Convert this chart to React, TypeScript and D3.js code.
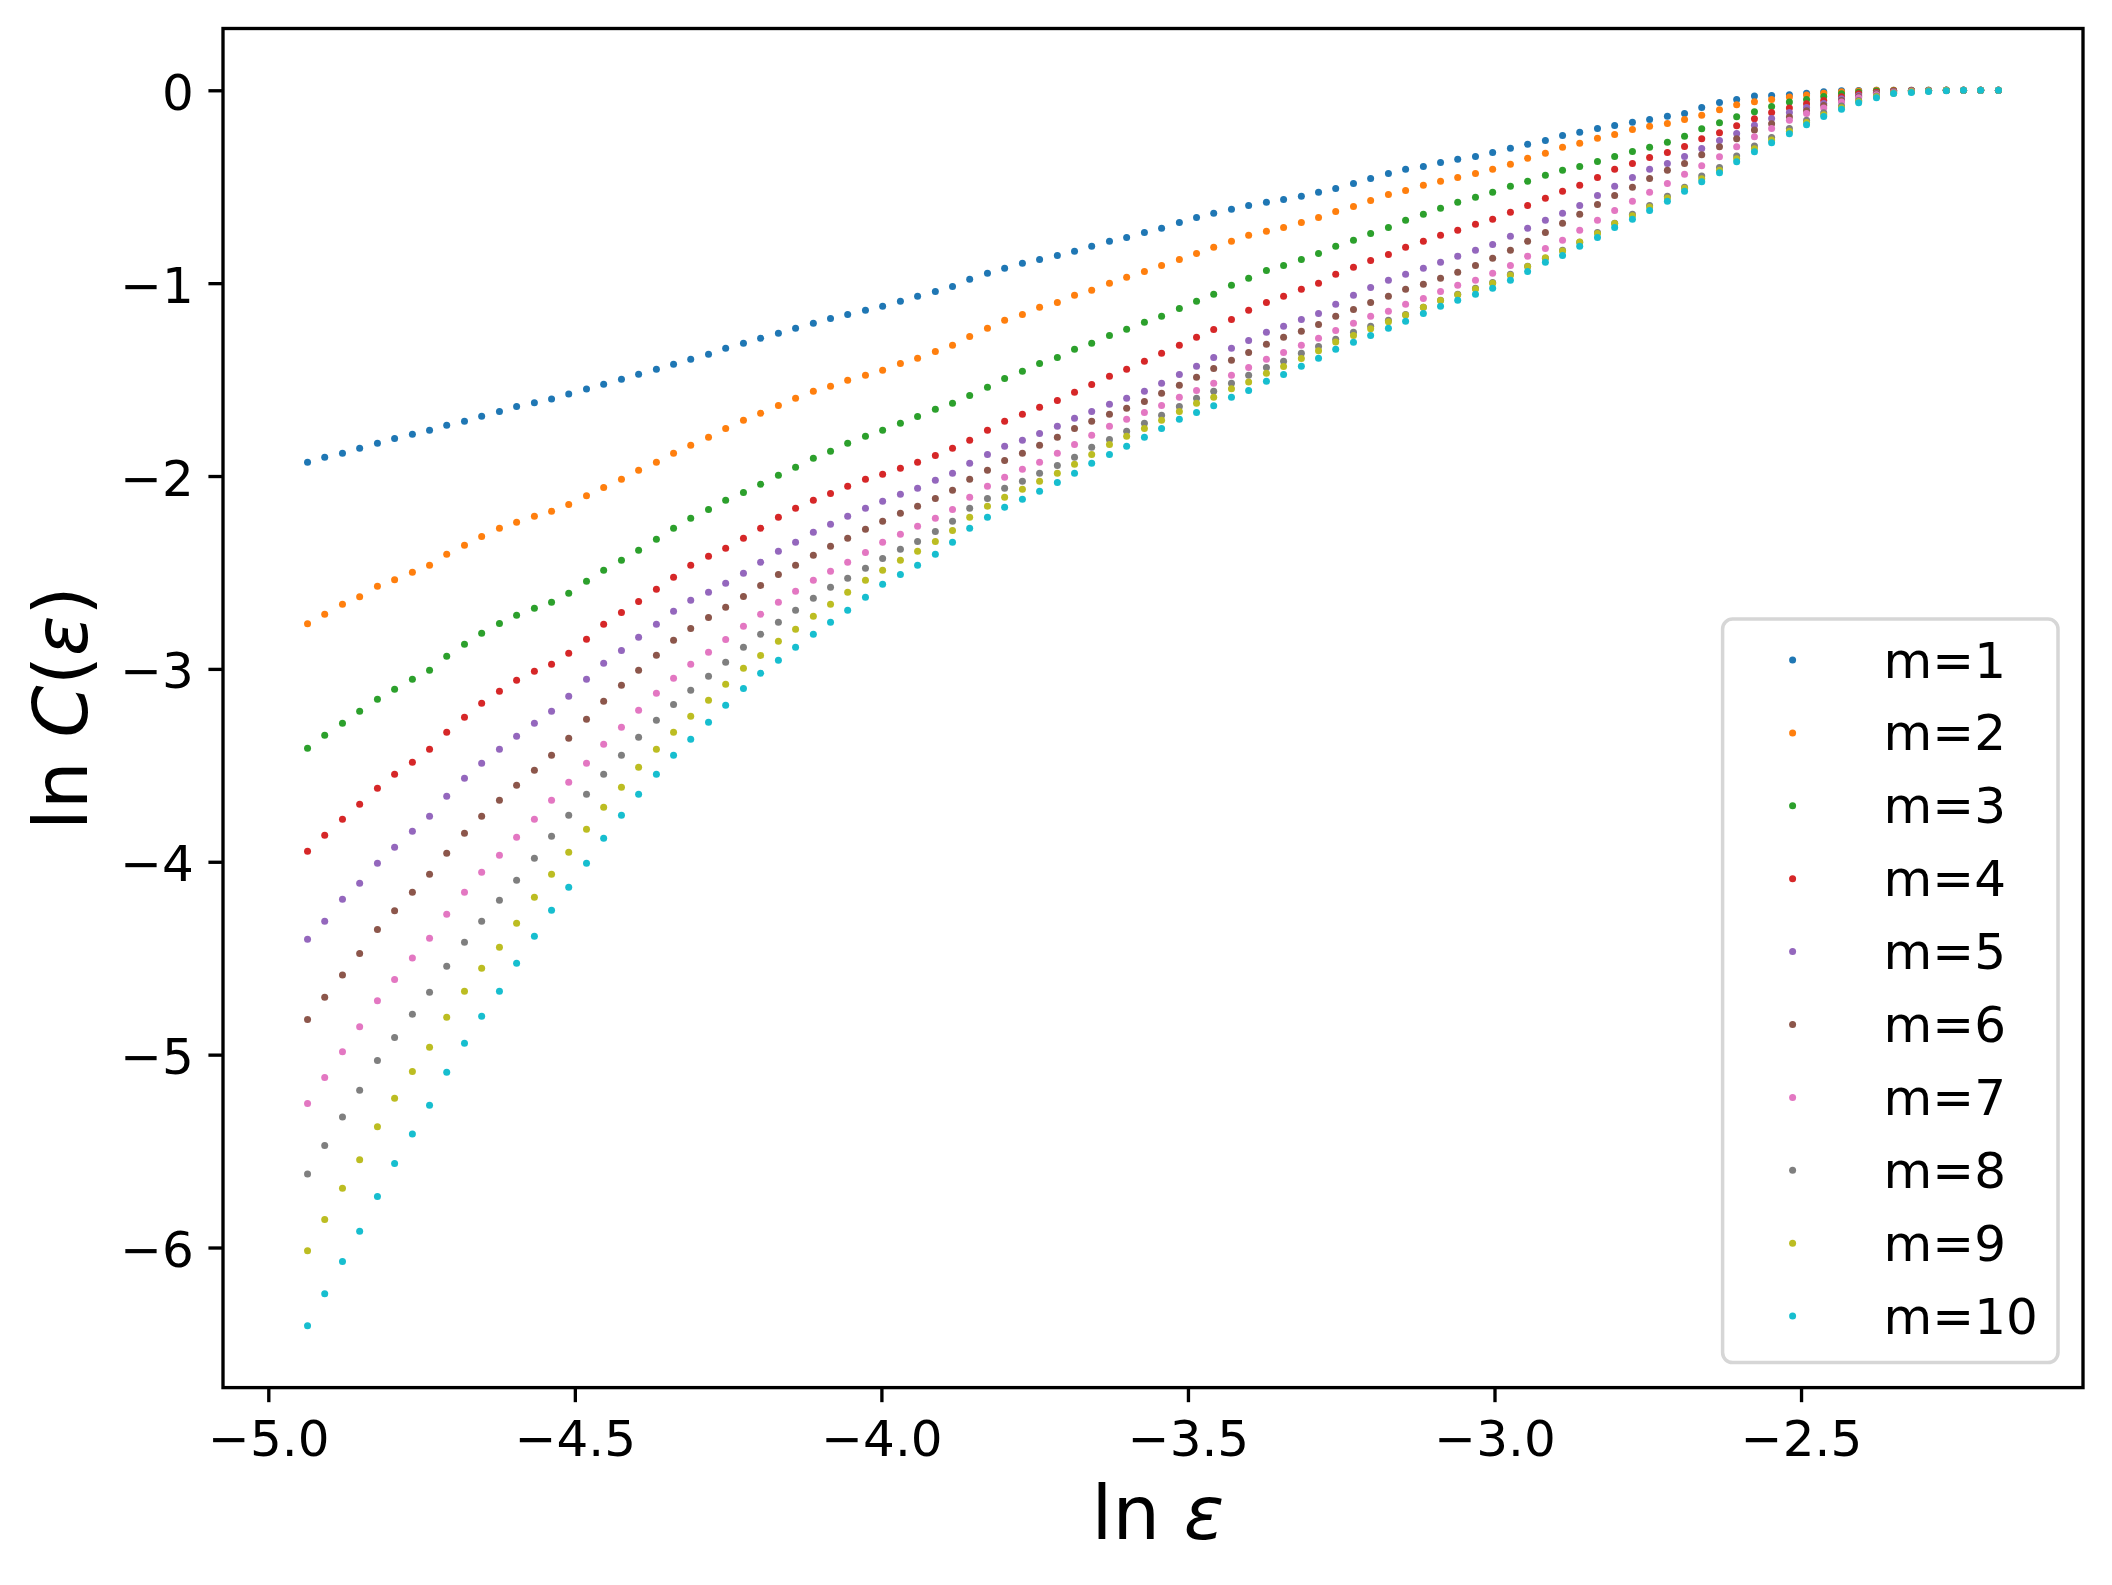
import { useEffect, useRef } from "react";
import * as d3 from "d3";

// ln(epsilon) grid shared by every embedding dimension
const lnEps = [
  -4.936, -4.908, -4.879, -4.851, -4.822, -4.794, -4.765, -4.737, -4.709, -4.68,
  -4.652, -4.623, -4.595, -4.566, -4.538, -4.51, -4.481, -4.453, -4.424, -4.396,
  -4.367, -4.339, -4.311, -4.282, -4.254, -4.225, -4.197, -4.168, -4.14, -4.111,
  -4.083, -4.055, -4.026, -3.998, -3.969, -3.941, -3.912, -3.884, -3.856, -3.827,
  -3.799, -3.77, -3.742, -3.713, -3.685, -3.657, -3.628, -3.6, -3.571, -3.543,
  -3.514, -3.486, -3.458, -3.429, -3.401, -3.372, -3.344, -3.315, -3.287, -3.259,
  -3.23, -3.202, -3.173, -3.145, -3.116, -3.088, -3.06, -3.031, -3.003, -2.974,
  -2.946, -2.917, -2.889, -2.861, -2.832, -2.804, -2.775, -2.747, -2.718, -2.69,
  -2.662, -2.633, -2.605, -2.576, -2.548, -2.519, -2.491, -2.463, -2.434, -2.406,
  -2.377, -2.349, -2.32, -2.292, -2.263, -2.235, -2.207, -2.178,
];

// ln C(epsilon), one array per m
const m1 = [
  -1.929, -1.903, -1.882, -1.856, -1.83, -1.805, -1.784, -1.763, -1.737, -1.716,
  -1.69, -1.665, -1.639, -1.62, -1.601, -1.575, -1.549, -1.524, -1.498, -1.472,
  -1.446, -1.421, -1.395, -1.369, -1.338, -1.312, -1.286, -1.26, -1.234, -1.208,
  -1.183, -1.162, -1.141, -1.12, -1.094, -1.068, -1.043, -1.017, -0.98, -0.949,
  -0.923, -0.897, -0.877, -0.856, -0.835, -0.809, -0.783, -0.763, -0.737, -0.716,
  -0.685, -0.659, -0.637, -0.617, -0.597, -0.581, -0.566, -0.55, -0.529, -0.509,
  -0.483, -0.457, -0.431, -0.41, -0.395, -0.374, -0.358, -0.343, -0.322, -0.301,
  -0.28, -0.26, -0.234, -0.218, -0.198, -0.182, -0.166, -0.151, -0.135, -0.12,
  -0.089, -0.063, -0.048, -0.03, -0.027, -0.023, -0.016, -0.008, -0.003, -0.001,
  0, 0, 0, 0, 0, 0, 0, 0,
];
const m2 = [
  -2.766, -2.717, -2.665, -2.626, -2.572, -2.538, -2.499, -2.463, -2.406, -2.359,
  -2.313, -2.271, -2.24, -2.209, -2.183, -2.147, -2.102, -2.059, -2.017, -1.97,
  -1.929, -1.882, -1.841, -1.799, -1.753, -1.711, -1.675, -1.634, -1.597, -1.561,
  -1.535, -1.504, -1.478, -1.452, -1.416, -1.39, -1.354, -1.322, -1.276, -1.234,
  -1.193, -1.162, -1.125, -1.1, -1.063, -1.037, -1.001, -0.97, -0.939, -0.908,
  -0.877, -0.846, -0.814, -0.783, -0.752, -0.731, -0.711, -0.685, -0.659, -0.628,
  -0.602, -0.571, -0.54, -0.519, -0.493, -0.472, -0.452, -0.431, -0.41, -0.384,
  -0.353, -0.327, -0.296, -0.275, -0.249, -0.229, -0.203, -0.187, -0.172, -0.151,
  -0.129, -0.101, -0.075, -0.06, -0.048, -0.035, -0.025, -0.015, -0.008, -0.004,
  0, 0, 0, 0, 0, 0, 0, 0,
];
const m3 = [
  -3.412, -3.344, -3.282, -3.22, -3.158, -3.106, -3.054, -3.007, -2.935, -2.872,
  -2.815, -2.764, -2.722, -2.686, -2.655, -2.608, -2.546, -2.489, -2.437, -2.385,
  -2.328, -2.271, -2.219, -2.173, -2.126, -2.085, -2.043, -1.996, -1.955, -1.908,
  -1.872, -1.83, -1.794, -1.763, -1.727, -1.691, -1.654, -1.623, -1.582, -1.54,
  -1.494, -1.457, -1.416, -1.385, -1.343, -1.312, -1.271, -1.239, -1.203, -1.172,
  -1.131, -1.094, -1.058, -1.011, -0.975, -0.934, -0.908, -0.877, -0.846, -0.809,
  -0.778, -0.742, -0.711, -0.674, -0.643, -0.612, -0.581, -0.555, -0.529, -0.498,
  -0.472, -0.441, -0.415, -0.395, -0.369, -0.343, -0.317, -0.296, -0.27, -0.239,
  -0.2, -0.168, -0.137, -0.111, -0.084, -0.061, -0.048, -0.032, -0.018, -0.01,
  -0.004, -0.002, -0.001, 0, 0, 0, 0, 0,
];
const m4 = [
  -3.946, -3.863, -3.78, -3.702, -3.619, -3.546, -3.484, -3.417, -3.329, -3.251,
  -3.178, -3.116, -3.059, -3.012, -2.976, -2.919, -2.846, -2.769, -2.707, -2.65,
  -2.587, -2.525, -2.463, -2.416, -2.375, -2.323, -2.271, -2.214, -2.167, -2.126,
  -2.09, -2.053, -2.017, -1.991, -1.96, -1.929, -1.893, -1.856, -1.815, -1.763,
  -1.716, -1.68, -1.644, -1.608, -1.566, -1.525, -1.483, -1.447, -1.405, -1.364,
  -1.322, -1.281, -1.24, -1.188, -1.141, -1.1, -1.068, -1.032, -1.001, -0.954,
  -0.918, -0.882, -0.851, -0.814, -0.783, -0.752, -0.726, -0.695, -0.669, -0.633,
  -0.597, -0.56, -0.524, -0.493, -0.452, -0.41, -0.379, -0.348, -0.322, -0.291,
  -0.251, -0.22, -0.184, -0.148, -0.115, -0.092, -0.07, -0.053, -0.034, -0.018,
  -0.01, -0.004, -0.002, -0.001, 0, 0, 0, 0,
];
const m5 = [
  -4.402, -4.309, -4.194, -4.111, -4.008, -3.925, -3.842, -3.764, -3.66, -3.567,
  -3.489, -3.417, -3.349, -3.282, -3.22, -3.142, -3.054, -2.971, -2.904, -2.836,
  -2.769, -2.701, -2.644, -2.603, -2.556, -2.504, -2.447, -2.39, -2.344, -2.292,
  -2.25, -2.209, -2.167, -2.131, -2.095, -2.064, -2.022, -1.986, -1.934, -1.888,
  -1.846, -1.815, -1.779, -1.742, -1.701, -1.665, -1.628, -1.597, -1.561, -1.519,
  -1.473, -1.431, -1.385, -1.338, -1.297, -1.255, -1.224, -1.188, -1.157, -1.11,
  -1.063, -1.022, -0.985, -0.954, -0.923, -0.892, -0.861, -0.83, -0.799, -0.757,
  -0.716, -0.674, -0.638, -0.597, -0.545, -0.498, -0.452, -0.41, -0.379, -0.343,
  -0.302, -0.26, -0.224, -0.181, -0.146, -0.115, -0.089, -0.068, -0.044, -0.027,
  -0.015, -0.006, -0.003, -0.001, 0, 0, 0, 0,
];
const m6 = [
  -4.818, -4.703, -4.587, -4.476, -4.351, -4.254, -4.158, -4.065, -3.956, -3.852,
  -3.764, -3.681, -3.603, -3.526, -3.448, -3.36, -3.261, -3.168, -3.085, -3.007,
  -2.929, -2.852, -2.79, -2.733, -2.681, -2.624, -2.567, -2.51, -2.463, -2.411,
  -2.364, -2.323, -2.276, -2.235, -2.193, -2.157, -2.116, -2.074, -2.017, -1.97,
  -1.919, -1.882, -1.841, -1.799, -1.753, -1.716, -1.68, -1.649, -1.613, -1.571,
  -1.53, -1.488, -1.442, -1.4, -1.359, -1.317, -1.281, -1.25, -1.214, -1.172,
  -1.136, -1.1, -1.068, -1.032, -1.006, -0.975, -0.944, -0.908, -0.871, -0.83,
  -0.783, -0.737, -0.69, -0.643, -0.592, -0.545, -0.503, -0.457, -0.415, -0.379,
  -0.334, -0.293, -0.251, -0.206, -0.174, -0.139, -0.106, -0.079, -0.053, -0.034,
  -0.018, -0.008, -0.004, -0.002, 0, 0, 0, 0,
];
const m7 = [
  -5.253, -5.119, -4.985, -4.855, -4.721, -4.61, -4.499, -4.397, -4.272, -4.158,
  -4.054, -3.966, -3.873, -3.78, -3.681, -3.588, -3.489, -3.391, -3.303, -3.215,
  -3.126, -3.049, -2.976, -2.914, -2.847, -2.779, -2.717, -2.655, -2.598, -2.541,
  -2.494, -2.447, -2.396, -2.344, -2.302, -2.261, -2.219, -2.173, -2.11, -2.053,
  -2.007, -1.965, -1.929, -1.882, -1.836, -1.789, -1.742, -1.706, -1.67, -1.634,
  -1.592, -1.556, -1.519, -1.478, -1.437, -1.395, -1.359, -1.322, -1.286, -1.245,
  -1.208, -1.172, -1.146, -1.11, -1.079, -1.043, -1.011, -0.985, -0.949, -0.908,
  -0.861, -0.82, -0.778, -0.726, -0.674, -0.623, -0.576, -0.529, -0.483, -0.436,
  -0.391, -0.345, -0.293, -0.241, -0.198, -0.156, -0.12, -0.092, -0.061, -0.039,
  -0.023, -0.01, -0.005, -0.002, 0, 0, 0, 0,
];
const m8 = [
  -5.619, -5.471, -5.323, -5.184, -5.031, -4.911, -4.791, -4.677, -4.542, -4.417,
  -4.308, -4.2, -4.096, -3.982, -3.868, -3.759, -3.65, -3.546, -3.448, -3.355,
  -3.266, -3.184, -3.111, -3.038, -2.966, -2.888, -2.821, -2.758, -2.696, -2.634,
  -2.577, -2.53, -2.478, -2.427, -2.38, -2.339, -2.287, -2.235, -2.167, -2.116,
  -2.064, -2.027, -1.986, -1.945, -1.903, -1.851, -1.81, -1.768, -1.727, -1.685,
  -1.639, -1.597, -1.561, -1.519, -1.478, -1.437, -1.405, -1.364, -1.328, -1.291,
  -1.255, -1.224, -1.193, -1.162, -1.125, -1.089, -1.058, -1.027, -0.996, -0.954,
  -0.913, -0.871, -0.83, -0.788, -0.737, -0.69, -0.643, -0.597, -0.55, -0.503,
  -0.445, -0.4, -0.341, -0.289, -0.245, -0.198, -0.155, -0.117, -0.082, -0.053,
  -0.03, -0.013, -0.007, -0.003, 0, 0, 0, 0,
];
const m9 = [
  -6.017, -5.855, -5.693, -5.545, -5.374, -5.226, -5.087, -4.962, -4.806, -4.671,
  -4.552, -4.443, -4.319, -4.184, -4.065, -3.951, -3.832, -3.717, -3.614, -3.51,
  -3.417, -3.329, -3.246, -3.163, -3.08, -2.997, -2.93, -2.857, -2.795, -2.727,
  -2.665, -2.603, -2.541, -2.489, -2.437, -2.39, -2.339, -2.282, -2.214, -2.157,
  -2.11, -2.069, -2.027, -1.986, -1.939, -1.888, -1.836, -1.794, -1.753, -1.711,
  -1.665, -1.623, -1.591, -1.548, -1.513, -1.467, -1.432, -1.391, -1.351, -1.305,
  -1.271, -1.236, -1.2, -1.165, -1.125, -1.09, -1.06, -1.03, -1.0, -0.959,
  -0.914, -0.868, -0.833, -0.787, -0.742, -0.691, -0.65, -0.605, -0.559, -0.508,
  -0.459, -0.414, -0.355, -0.303, -0.258, -0.212, -0.167, -0.127, -0.091, -0.058,
  -0.034, -0.015, -0.008, -0.004, 0, 0, 0, 0,
];
const m10 = [
  -6.406, -6.24, -6.073, -5.916, -5.735, -5.564, -5.411, -5.262, -5.091, -4.941,
  -4.801, -4.671, -4.526, -4.386, -4.251, -4.132, -4.008, -3.878, -3.759, -3.65,
  -3.546, -3.448, -3.365, -3.277, -3.189, -3.101, -3.023, -2.955, -2.888, -2.821,
  -2.758, -2.696, -2.629, -2.561, -2.51, -2.463, -2.406, -2.344, -2.271, -2.214,
  -2.162, -2.121, -2.079, -2.033, -1.986, -1.934, -1.888, -1.846, -1.799, -1.753,
  -1.706, -1.67, -1.636, -1.592, -1.556, -1.509, -1.473, -1.431, -1.39, -1.343,
  -1.307, -1.271, -1.234, -1.198, -1.157, -1.12, -1.089, -1.058, -1.027, -0.985,
  -0.939, -0.892, -0.856, -0.809, -0.763, -0.711, -0.669, -0.623, -0.576, -0.524,
  -0.474, -0.428, -0.371, -0.319, -0.272, -0.226, -0.179, -0.136, -0.099, -0.065,
  -0.039, -0.017, -0.011, -0.006, -0.002, 0, 0, 0,
];

const seriesLabels = ["m=1", "m=2", "m=3", "m=4", "m=5", "m=6", "m=7", "m=8", "m=9", "m=10"];
const seriesValues = [m1, m2, m3, m4, m5, m6, m7, m8, m9, m10];
const xTickValues = [-5.0, -4.5, -4.0, -3.5, -3.0, -2.5];
const yTickValues = [0, -1, -2, -3, -4, -5, -6];

const FONT = "'DejaVu Sans', Verdana, sans-serif";
const minus = (s: string) => s.replace("-", "\u2212");

export default function App() {
  const svgRef = useRef<SVGSVGElement>(null);

  useEffect(() => {
    if (!svgRef.current) return;

    const width = 2112;
    const height = 1585;
    const margin = { top: 28.5, right: 29, bottom: 197.4, left: 223 };
    const pt = 300 / 72; // figure was saved at 300 dpi
    const tickLen = 3.5 * pt;
    const lw = 0.8 * pt;

    const svg = d3.select(svgRef.current);
    svg.selectAll("*").remove();
    svg
      .attr("width", width)
      .attr("height", height)
      .attr("viewBox", `0 0 ${width} ${height}`)
      .style("background", "#ffffff")
      .style("font-family", FONT);

    // matplotlib default 5% autoscale margins
    const [x0, x1] = d3.extent(lnEps) as [number, number];
    const allY = seriesValues.flat();
    const [y0, y1] = d3.extent(allY) as [number, number];
    const xPad = (x1 - x0) * 0.05;
    const yPad = (y1 - y0) * 0.05;

    const x = d3
      .scaleLinear()
      .domain([x0 - xPad, x1 + xPad])
      .range([margin.left, width - margin.right]);
    const y = d3
      .scaleLinear()
      .domain([y0 - yPad, y1 + yPad])
      .range([height - margin.bottom, margin.top]);

    const colors = d3.schemeCategory10;

    // dots
    seriesValues.forEach((vals, si) => {
      svg
        .append("g")
        .attr("fill", colors[si])
        .selectAll("circle")
        .data(vals.map((v, i) => [lnEps[i], v] as [number, number]))
        .join("circle")
        .attr("cx", (d) => x(d[0]))
        .attr("cy", (d) => y(d[1]))
        .attr("r", 3.5);
    });

    // axes
    const xAxis = svg
      .append("g")
      .attr("transform", `translate(0,${height - margin.bottom})`)
      .call(
        d3
          .axisBottom(x)
          .tickValues(xTickValues)
          .tickFormat((d) => minus((d as number).toFixed(1)))
          .tickSize(tickLen)
          .tickPadding(tickLen)
          .tickSizeOuter(0)
      );
    xAxis.select(".domain").remove();
    xAxis.selectAll("line").attr("stroke", "#000").attr("stroke-width", lw);
    xAxis
      .selectAll("text")
      .attr("fill", "#000")
      .attr("dy", "0.79em")
      .style("font-size", "50px")
      .style("font-family", FONT);

    const yAxis = svg
      .append("g")
      .attr("transform", `translate(${margin.left},0)`)
      .call(
        d3
          .axisLeft(y)
          .tickValues(yTickValues)
          .tickFormat((d) => minus(d3.format("d")(d as number)))
          .tickSize(tickLen)
          .tickPadding(tickLen)
          .tickSizeOuter(0)
      );
    yAxis.select(".domain").remove();
    yAxis.selectAll("line").attr("stroke", "#000").attr("stroke-width", lw);
    yAxis
      .selectAll("text")
      .attr("fill", "#000")
      .attr("dy", "0.38em")
      .style("font-size", "50px")
      .style("font-family", FONT);

    // spines
    svg
      .append("rect")
      .attr("x", margin.left)
      .attr("y", margin.top)
      .attr("width", width - margin.left - margin.right)
      .attr("height", height - margin.top - margin.bottom)
      .attr("fill", "none")
      .attr("stroke", "#000")
      .attr("stroke-width", lw);

    // axis labels
    const xLabel = svg
      .append("text")
      .attr("x", (margin.left + width - margin.right) / 2 + 5)
      .attr("y", 1539)
      .attr("text-anchor", "middle")
      .style("font-size", "75px");
    xLabel.append("tspan").text("ln ");
    xLabel.append("tspan").style("font-style", "italic").text("ε");

    const yLabel = svg
      .append("text")
      .attr("transform", `translate(87,${(margin.top + height - margin.bottom) / 2}) rotate(-90)`)
      .attr("text-anchor", "middle")
      .style("font-size", "75px");
    yLabel.append("tspan").text("ln ");
    yLabel.append("tspan").style("font-style", "italic").text("C");
    yLabel.append("tspan").text("(");
    yLabel.append("tspan").style("font-style", "italic").text("ε");
    yLabel.append("tspan").text(")");

    // legend, lower right
    const legW = 335.4;
    const legH = 743.6;
    const legX = width - margin.right - 25 - legW;
    const legY = height - margin.bottom - 25 - legH;
    const legend = svg.append("g");
    legend
      .append("rect")
      .attr("x", legX)
      .attr("y", legY)
      .attr("width", legW)
      .attr("height", legH)
      .attr("rx", 10)
      .attr("fill", "#ffffff")
      .attr("fill-opacity", 0.8)
      .attr("stroke", "#d6d6d6")
      .attr("stroke-width", 3.5);

    const rowH = 72.9;
    legend
      .selectAll("g.entry")
      .data(seriesLabels)
      .join("g")
      .attr("class", "entry")
      .attr("transform", (_, i) => `translate(${legX},${legY + 41 + i * rowH})`)
      .call((row) => {
        row
          .append("circle")
          .attr("cx", 70)
          .attr("cy", 0)
          .attr("r", 3.5)
          .attr("fill", (_, i) => colors[i]);
        row
          .append("text")
          .attr("x", 161)
          .attr("y", 17.5)
          .attr("fill", "#000")
          .style("font-size", "50px")
          .text((d) => d);
      });
  }, []);

  return (
    <div style={{ position: "absolute", left: 0, top: 0 }}>
      <svg ref={svgRef} />
    </div>
  );
}
